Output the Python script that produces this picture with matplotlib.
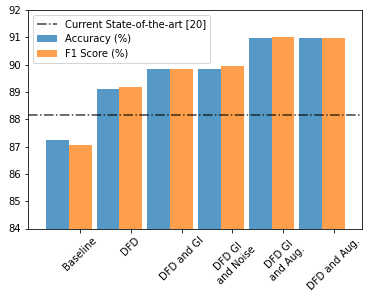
import numpy as np
import matplotlib
matplotlib.use("Agg")
import matplotlib.pyplot as plt

labels = ["Baseline", "DFD", "DFD and GI", "DFD GI\nand Noise", "DFD GI\nand Aug.", "DFD and Aug."]
accuracy = [87.25, 89.10, 89.83, 89.83, 90.97, 90.97]
f1_score = [87.07, 89.17, 89.83, 89.94, 91.01, 90.97]
sota = 88.14

w = 0.45
x = np.arange(len(labels))

fig = plt.figure(figsize=(372 / 72, 298 / 72), dpi=72)
ax = fig.add_axes([28 / 372, 1 - 228.5 / 298, 334 / 372, 218.5 / 298])

ax.bar(x, accuracy, w, color="tab:blue", alpha=0.75, label="Accuracy (%)")
ax.bar(x + w, f1_score, w, color="tab:orange", alpha=0.75, label="F1 Score (%)")
ax.axhline(sota, color="black", linestyle="-.", alpha=0.75, label="Current State-of-the-art [20]")

ax.set_ylim(84, 92)
ax.set_xlim(-0.58, 6.01)
ax.set_xticks(x + w)
ax.set_xticklabels(labels, rotation=45)
ax.legend(loc="upper left")

fig.savefig("out.png", dpi=72)
